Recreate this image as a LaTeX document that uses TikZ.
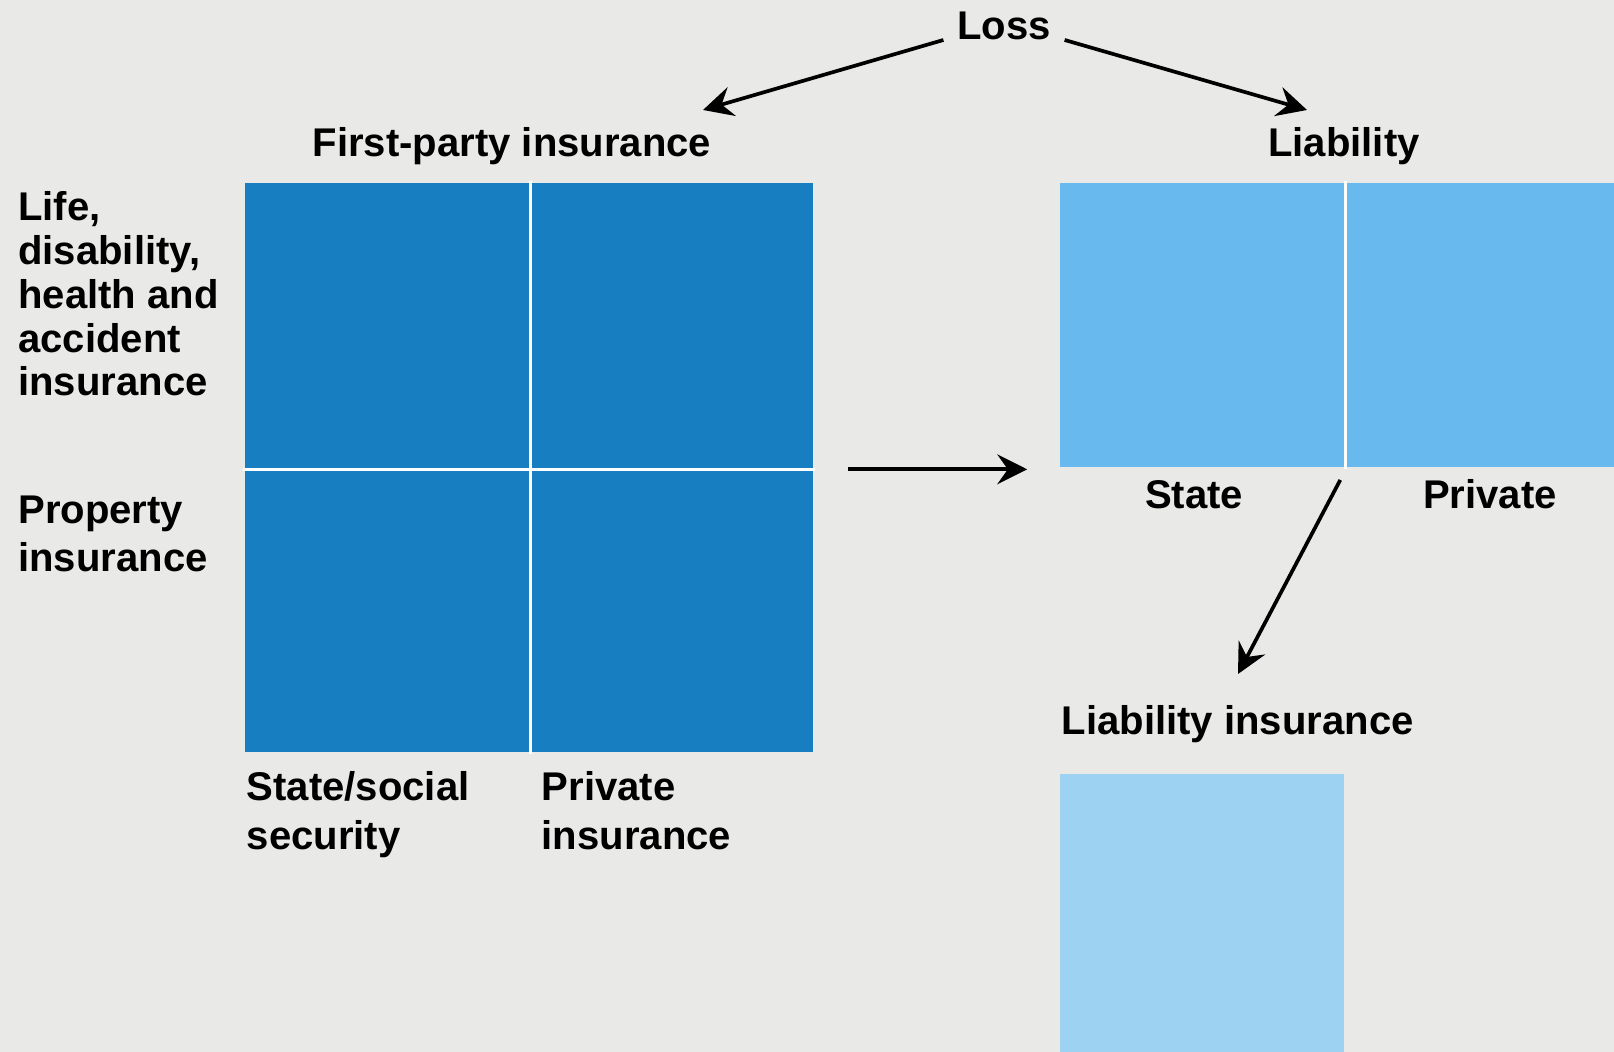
\documentclass[tikz,border=0pt]{standalone}
\usepackage{fontspec}
\setmainfont{Liberation Sans}
\usetikzlibrary{arrows.meta}

\definecolor{bggray}{HTML}{E9E9E7}
\definecolor{firstblue}{HTML}{177EC1}
\definecolor{liabblue}{HTML}{67B9EE}
\definecolor{insblue}{HTML}{9DD2F3}

\tikzset{
    cell/.style={fill=#1, inner sep=0, minimum width=2.84cm, minimum height=2.845cm},
    lbl/.style={font=\bfseries\fontsize{11.4pt}{#1}\selectfont, inner sep=0, align=left},
    lbl/.default=12.66pt,
    divider/.style={white, line width=0.03cm},
}

\begin{document}
\begin{tikzpicture}[>={Stealth[length=8.5pt, width=8.5pt, inset=3pt]}, line width=1.05pt]
    \fill[bggray] (0,0) rectangle (16.14,-10.52);
    \useasboundingbox (0,0) rectangle (16.14,-10.52);
    \clip (0,0) rectangle (16.14,-10.52);

    % First-party grid (2x2)
    \node[cell=firstblue] (c11) at (3.87,-3.2525) {};
    \node[cell=firstblue] (c12) at (6.71,-3.2525) {};
    \node[cell=firstblue] (c21) at (3.87,-6.0975) {};
    \node[cell=firstblue] (c22) at (6.71,-6.0975) {};
    \draw[divider] (c11.north east) -- (c21.south east);
    \draw[divider] (c11.south west) -- (c12.south east);

    % Liability boxes
    \node[cell=liabblue] (ls) at (12.02,-3.2525) {};
    \node[cell=liabblue] (lp) at (14.86,-3.2525) {};
    \draw[divider] (ls.north east) -- (ls.south east);
    \node[cell=insblue] (lc) at (12.02,-9.165) {};

    % Labels
    \node[lbl, anchor=base, inner xsep=1.2mm] (loss) at (10.04,-0.40) {Loss};
    \node[lbl, anchor=base] (firstparty) at (5.12,-1.57) {First-party insurance};
    \node[lbl, anchor=base] (liab) at (13.44,-1.57) {Liability};
    \node[lbl=12.44pt, anchor=north west] (lifeins) at (0.165,-1.90) {Life,\\disability,\\health and\\accident\\insurance};
    \node[lbl=13.76pt, anchor=north west] (propins) at (0.165,-4.94) {Property\\insurance};
    \node[lbl=13.76pt, anchor=north west] (stateins) at (2.45,-7.70) {State/social\\security};
    \node[lbl=13.76pt, anchor=north west] (privins) at (5.40,-7.70) {Private\\insurance};
    \node[lbl, anchor=base] (state) at (11.94,-5.09) {State};
    \node[lbl, anchor=base] (private) at (14.90,-5.09) {Private};
    \node[lbl, anchor=base west] (liabins) at (10.60,-7.35) {Liability insurance};

    % Arrow ends
    \coordinate (fp in) at (7.03,-1.10);
    \coordinate (lb in) at (13.07,-1.10);
    \coordinate (li in) at (12.38,-6.74);

    % Arrows
    \draw[->] (loss.base west) -- (fp in);
    \draw[->] (loss.base east) -- (lb in);
    \draw[->, shorten <=0.33cm, shorten >=0.31cm] (c12.south east) -- (ls.south west);
    \draw[->, shorten <=0.12cm] (ls.south east) -- (li in);
\end{tikzpicture}
\end{document}
